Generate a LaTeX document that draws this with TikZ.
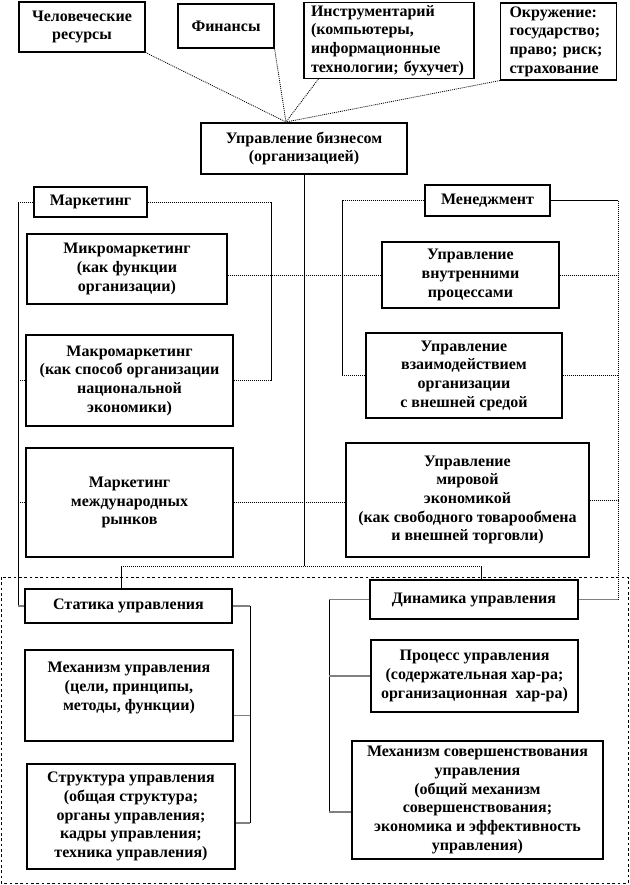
\documentclass[tikz,border=0pt]{standalone}
\usepackage{fontspec}
\setmainfont{Liberation Serif}
\usetikzlibrary{positioning}

\tikzset{
  unit/.style={draw, line width=0.8pt, fill=white, align=center, inner sep=2pt,
    font=\fontsize{12}{14}\bfseries\selectfont},
  boxsize/.style 2 args={minimum width=#1*0.75pt, minimum height=#2*0.75pt},
  link/.style={line width=0.6pt, dash pattern=on 0.75pt off 0.75pt},
  rail/.style={line width=0.75pt},
  stub/.style={gray, line width=1.2pt},
}

\begin{document}
\begin{tikzpicture}[x=0.75pt, y=-0.75pt]
  \useasboundingbox (0,0) rectangle (629,885);
  % frame round the statics and dynamics
  \draw[line width=0.6pt, dash pattern=on 2pt off 2pt] (1,577) rectangle (628,883);

  % Resources
  \node[unit, boxsize={126}{50}] (hr) at (82,27) {Человеческие\\ресурсы};
  \node[unit, boxsize={96}{44}] (fin) at (226,26) {Финансы};
  \node[unit, align=left, text width=156*0.75pt, inner xsep=5.25pt, minimum height=75*0.75pt] (tools) at (389,40.5)
    {Инструментарий\\(компьютеры,\\информационные\\технологии; бухучет)};
  \node[unit, align=left, text width=98*0.75pt, inner xsep=6.75pt, minimum height=77*0.75pt] (env) at (558.5,41.5)
    {Окружение:\\государство;\\право; риск;\\страхование};
  \coordinate (hub) at (286,122);
  % Business
  \node[unit, boxsize={206}{51}] (biz) at (304,148.5) {Управление бизнесом\\(организацией)};

  % Marketing
  \node[unit, boxsize={113}{30}] (mkt) at (90.5,202) {Маркетинг};
  \node[unit, boxsize={200}{70}] (micro) at (127,269) {Микромаркетинг\\(как функции\\организации)};
  \node[unit, boxsize={207}{91}] (macro) at (129.5,380.5)
    {Макромаркетинг\\(как способ организации\\национальной\\экономики)};
  \node[unit, boxsize={207}{109}] (intl) at (129.5,502.5) {Маркетинг\\международных\\рынков};

  % Management
  \node[unit, boxsize={125}{31}] (mgmt) at (487.5,200.5) {Менеджмент};
  \node[unit, boxsize={177}{66}] (inner) at (470.5,275) {Управление\\внутренними\\процессами};
  \node[unit, boxsize={196}{85}] (interact) at (464,375.5)
    {Управление\\взаимодействием\\организации\\с внешней средой};
  \node[unit, boxsize={243}{114}] (world) at (467.5,500)
    {Управление\\мировой\\экономикой\\(как свободного товарообмена\\и внешней торговли)};

  % Statics
  \node[unit, boxsize={207}{34}] (static) at (128.5,606) {Статика управления};
  \node[unit, boxsize={208}{91}] (mech) at (129,695.5)
    {Механизм управления\\(цели, принципы,\\методы, функции)\\~};
  \node[unit, boxsize={208}{105}] (struct) at (131,816.5)
    {Структура управления\\(общая структура;\\органы управления;\\кадры управления;\\техника управления)};

  % Dynamics
  \node[unit, boxsize={208}{39}] (dynamic) at (474,599.5) {Динамика управления};
  \node[unit, boxsize={207}{72}] (proc) at (474.5,676)
    {Процесс управления\\(содержательная хар-ра;\\организационная~~хар-ра)};
  \node[unit, boxsize={251}{118}] (improve) at (477.5,800)
    {Механизм совершенствования\\управления\\(общий механизм\\совершенствования;\\экономика и эффективность\\управления)};

  % rails
  \coordinate (left rail) at (18,0);
  \coordinate (mkt rail) at (271,0);
  \coordinate (mgmt rail) at (342,0);
  \coordinate (right rail) at (618,0);
  \coordinate (static rail) at (250,0);
  \coordinate (dynamic rail) at (329,0);
  \coordinate (split) at (304,566);
  \coordinate (static top) at (121,566);
  \coordinate (dynamic top) at (481,566);

  % resources to business
  \draw[link] (hr.south east) -- (hub);
  \draw[link] (fin.south east) -- (hub);
  \draw[link] ([xshift=11.25pt]tools.south west) -- (hub);
  \draw[link] (env.south west) -- (hub);

  % trunk
  \draw[rail] (biz.south) -- (split);
  \draw[link] (static top) -- (dynamic top);
  \draw[rail] (static top) -- (static top |- static.north);
  \draw[rail] (dynamic top) -- (dynamic top |- dynamic.north);

  % Marketing bracket
  \draw[link] (mkt.west) -- (mkt.west -| left rail);
  \draw[rail] (mkt.west -| left rail) -- (static.west -| left rail);
  \draw[stub] (static.west -| left rail) -- (static.west);
  \draw[link] (mkt.east) -- (mkt.east -| mkt rail);
  \draw[rail] (mkt.east -| mkt rail) -- (macro.east -| mkt rail);
  \draw[link] (macro.east -| mkt rail) -- (macro.east);
  \draw[link] (macro.west) -- (macro.west -| left rail);
  \draw[link] (intl.west) -- (intl.west -| left rail);
  \draw[link] (micro.east |- inner.west) -- (inner.west);
  \draw[link] (intl.east) -- (intl.east -| world.west);
  \draw[link] (world.east) -- (world.east -| right rail);

  % Management bracket
  \draw[link] (mgmt.west) -- (mgmt.west -| mgmt rail);
  \draw[rail] (mgmt.west -| mgmt rail) -- (interact.west -| mgmt rail);
  \draw[link] (interact.west -| mgmt rail) -- (interact.west);
  \draw[rail] (mgmt.east) -- (mgmt.east -| right rail);
  \draw[link] (mgmt.east -| right rail) -- (dynamic.east -| right rail);
  \draw[stub] (dynamic.east -| right rail) -- (dynamic.east);
  \draw[link] (inner.east) -- (inner.east -| right rail);
  \draw[link] (interact.east) -- (interact.east -| right rail);

  % Statics
  \draw[stub] (static.east) -- (static.east -| static rail);
  \draw[rail] (static.east -| static rail) -- ([yshift=-5pt]struct.east -| static rail);
  \draw[stub] ([yshift=-15pt]mech.east -| static rail) -- ([yshift=-15pt]mech.east);
  \draw[stub] ([yshift=-5pt]struct.east -| static rail) -- ([yshift=-5pt]struct.east);

  % Dynamics
  \draw[stub] (dynamic.west) -- (dynamic.west -| dynamic rail);
  \draw[rail] (dynamic.west -| dynamic rail) -- ([yshift=-9pt]improve.west -| dynamic rail);
  \draw[stub] (proc.west -| dynamic rail) -- (proc.west);
  \draw[stub] ([yshift=-9pt]improve.west -| dynamic rail) -- ([yshift=-9pt]improve.west);
\end{tikzpicture}
\end{document}
